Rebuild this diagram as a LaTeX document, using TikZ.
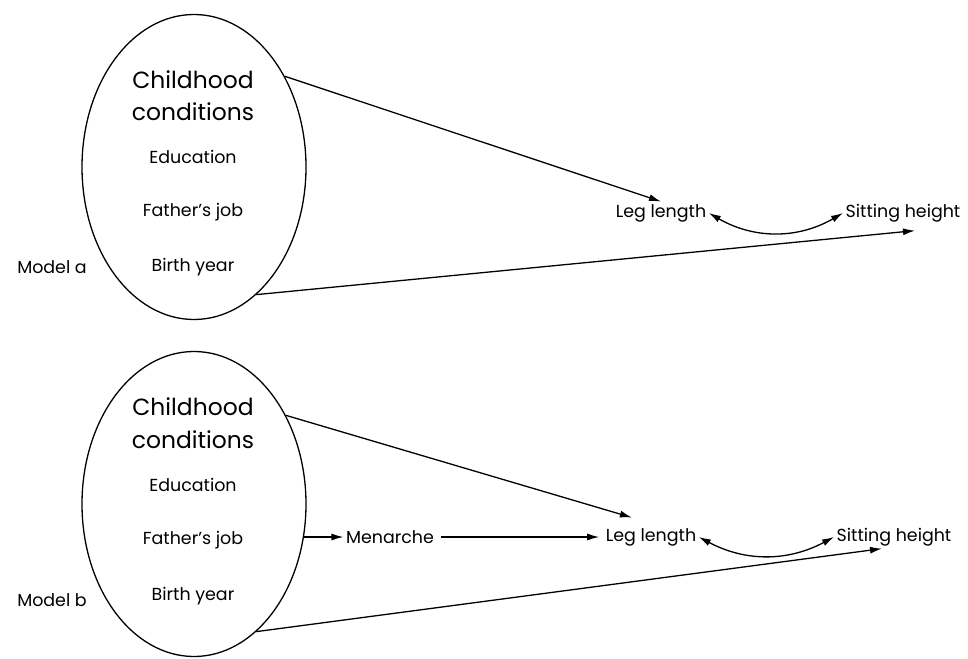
\documentclass[tikz,border=0pt]{standalone}
\usepackage{fontspec}
\setmainfont{Poppins}
\usetikzlibrary{shapes.geometric, arrows.meta, calc}

\begin{document}
\begin{tikzpicture} [
        x=1bp, y=-1bp,
        line width=1.3bp,
        cond/.style={draw, ellipse, minimum width=224bp, minimum height=305bp, inner sep=0pt},
        label big/.style={font=\fontsize{23.5}{26}\selectfont},
        label var/.style={font=\fontsize{17.5}{20}\selectfont, inner sep=2bp},
        arr/.style={-{Latex[length=12bp, width=7bp]}},
        arr both/.style={{Latex[length=12bp, width=7bp]}-{Latex[length=12bp, width=7bp]}}
    ]

    \useasboundingbox (0,0) rectangle (968,659);

    % Model a
    \path (194,167) node[cond] (cond a) {};
    \path (193,80) node[label big] (child a) {Childhood};
    \path (193,112) node[label big] (condi a) {conditions};
    \path (193,157) node[label var] (edu a) {Education};
    \path (193,212) node[label var] (job a) {Father's job};
    \path (193,267) node[label var] (birth a) {Birth year};
    \path (52,267) node[label var] (model a) {Model a};
    \path (661,213) node[label var] (leg a) {Leg length};
    \path (903,213) node[label var] (sit a) {Sitting height};

    \draw[arr] (cond a.45) -- (leg a.north);
    \draw[arr] (cond a.-64) -- ($ (sit a.south west)!.6!(sit a.south east) + (0,6) $);
    \draw[arr both] (leg a.east) to[bend right=30] (sit a.west);

    % Model b
    \path (194,504) node[cond] (cond b) {};
    \path (193,407) node[label big] (child b) {Childhood};
    \path (193,440) node[label big] (condi b) {conditions};
    \path (193,485) node[label var] (edu b) {Education};
    \path (193,540) node[label var] (job b) {Father's job};
    \path (193,596) node[label var] (birth b) {Birth year};
    \path (52,600) node[label var] (model b) {Model b};
    \path (390,537) node[label var] (men b) {Menarche};
    \path (651,537) node[label var] (leg b) {Leg length};
    \path (894,537) node[label var] (sit b) {Sitting height};

    \draw[arr] (cond b.44) -- ($ (leg b.north west)!.3!(leg b.north east) + (0,-8) $);
    \draw[arr] (cond b.-17 |- men b.west) -- (men b.west);
    \draw[arr] ($ (men b.east) + (4,0) $) -- ($ (leg b.west) + (-4,0) $);
    \draw[arr] (cond b.-64) -- ($ (sit b.south west)!.4!(sit b.south east) $);
    \draw[arr both] (leg b.east) to[bend right=28] (sit b.west);

\end{tikzpicture}
\end{document}
